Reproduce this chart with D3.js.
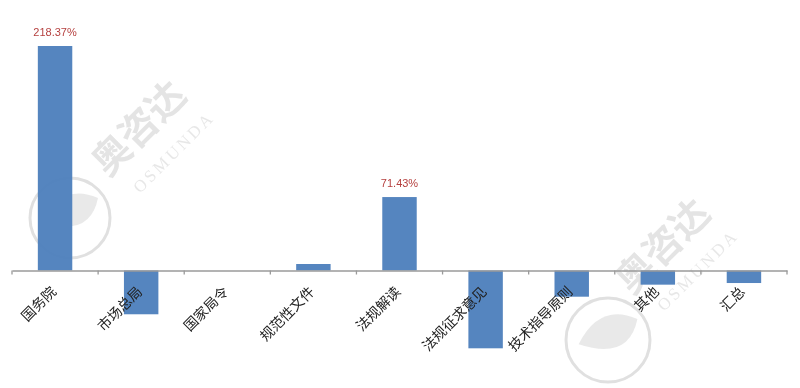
<!DOCTYPE html>
<html>
<head>
<meta charset="utf-8">
<script src="https://cdn.jsdelivr.net/npm/d3@7"></script>
<style>
  body { margin: 0; background: #fff; }
  svg { display: block; }
</style>
</head>
<body>
<svg id="chart" width="800" height="388"></svg>
<script>
// categories and values (percent change)
var categories = ["国务院", "市场总局", "国家局令", "规范性文件", "法规解读", "法规征求意见", "技术指导原则", "其他", "汇总"];
var values = [218.37, -42.6, 0, 6.3, 71.43, -75.7, -25.5, -13.8, -12.2];
var shownLabels = ["218.37%", null, null, null, "71.43%", null, null, null, null];

var svg = d3.select("#chart");
var left = 12, right = 787;

var x = d3.scaleBand()
  .domain(categories)
  .range([left, right])
  .paddingInner(0.6)
  .paddingOuter(0.3);

var y = d3.scaleLinear()
  .domain([-75.7, 218.37])
  .range([348.3, 46]);

// watermark (faint)
function watermark(g, cx, cy, r, tx, ty) {
  g.append("circle").attr("cx", cx).attr("cy", cy).attr("r", r)
    .attr("fill", "none").attr("stroke", "#d9d9d9").attr("stroke-width", 3);
  g.append("path")
    .attr("d", "M" + (cx - r * 0.7) + "," + (cy + r * 0.1) +
      " Q" + (cx - r * 0.2) + "," + (cy - r * 0.9) + " " + (cx + r * 0.7) + "," + (cy - r * 0.5) +
      " Q" + (cx + r * 0.5) + "," + (cy + r * 0.5) + " " + (cx - r * 0.7) + "," + (cy + r * 0.1) + "Z")
    .attr("fill", "#e4e4e4");
  g.append("text").attr("transform", "translate(" + tx + "," + ty + ") rotate(-45)")
    .attr("font-family", "Noto Sans CJK SC").attr("font-size", 38).attr("font-weight", "bold")
    .attr("fill", "#dedede").text("奥咨达");
  g.append("text").attr("transform", "translate(" + (tx + 32) + "," + (ty + 16) + ") rotate(-45)")
    .attr("font-family", "Liberation Serif").attr("font-size", 17)
    .attr("letter-spacing", 3).attr("fill", "#e2e2e2").text("OSMUNDA");
}
var wm = svg.append("g").attr("opacity", 0.8);
watermark(wm, 70, 218, 40, 108, 178);
watermark(wm, 608, 340, 42, 632, 296);

// bars
svg.append("g").selectAll("rect")
  .data(values)
  .enter()
  .append("rect")
  .attr("x", function (d, i) { return x(categories[i]); })
  .attr("y", function (d) { return y(Math.max(0, d)); })
  .attr("width", x.bandwidth())
  .attr("height", function (d) { return Math.abs(y(d) - y(0)); })
  .attr("fill", "#4f81bd")
  .attr("fill-opacity", 0.97);

// axis at zero
var axis = d3.axisBottom(x).tickSize(0).tickFormat("");
var ag = svg.append("g").attr("transform", "translate(0," + y(0) + ")").call(axis);
ag.select(".domain").attr("stroke", "#9a9a9a").attr("stroke-width", 1.3);

// boundary ticks between categories
var bounds = d3.range(categories.length + 1).map(function (i) { return left + i * (right - left) / categories.length; });
ag.selectAll(".bt").data(bounds).enter().append("line")
  .attr("x1", function (d) { return d; }).attr("x2", function (d) { return d; })
  .attr("y1", 0).attr("y2", 4)
  .attr("stroke", "#9a9a9a").attr("stroke-width", 1.3);

// category labels rotated
svg.append("g").selectAll("text")
  .data(categories)
  .enter()
  .append("text")
  .attr("transform", function (d) {
    return "translate(" + (x(d) + x.bandwidth() / 2 + 2) + "," + (y(0) + 22) + ") rotate(-45)";
  })
  .attr("text-anchor", "end")
  .attr("font-family", "Noto Sans CJK SC")
  .attr("font-size", 14)
  .attr("fill", "#222")
  .text(function (d) { return d; });

// data labels
svg.append("g").selectAll("text")
  .data(values)
  .enter()
  .append("text")
  .filter(function (d, i) { return shownLabels[i] !== null; })
  .attr("x", function (d, i) { return x(categories[values.indexOf(d)]) + x.bandwidth() / 2; })
  .attr("y", function (d) { return y(d) - 10; })
  .attr("text-anchor", "middle")
  .attr("font-family", "Liberation Sans")
  .attr("font-size", 11)
  .attr("fill", "#b5403f")
  .text(function (d) { return shownLabels[values.indexOf(d)]; });
</script>
</body>
</html>
